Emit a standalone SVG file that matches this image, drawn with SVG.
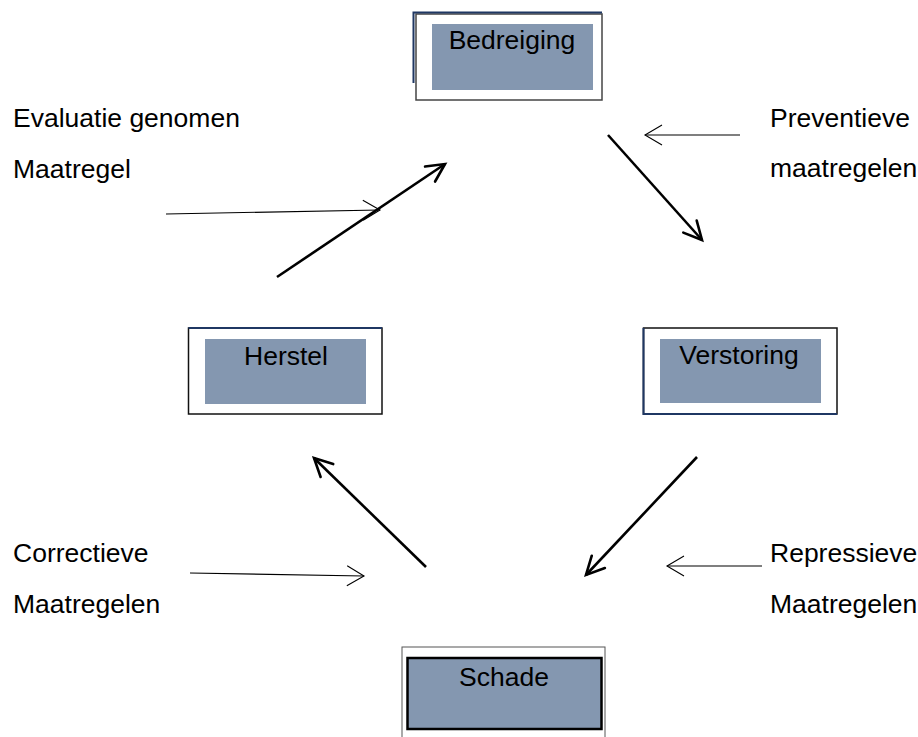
<svg xmlns="http://www.w3.org/2000/svg" width="918" height="737" viewBox="0 0 918 737">
<defs>
<style>
text{font-family:"Liberation Sans",Arial,sans-serif;font-size:26.5px;fill:#000}
.lbl{text-anchor:middle}
.fill{fill:#8497B0;stroke:none}
.thick{stroke:#000;stroke-width:2.6;fill:none;marker-end:url(#hk)}
.thin{stroke:#000;stroke-width:1.1;fill:none;marker-end:url(#hn)}
</style>
<marker id="hk" markerUnits="userSpaceOnUse" orient="auto" markerWidth="30" markerHeight="30" viewBox="-25 -15 30 30" refX="0" refY="0" overflow="visible">
<path d="M-18,-9 L0,0 L-18,9" fill="none" stroke="#000" stroke-width="2.6" stroke-linecap="round" stroke-linejoin="miter"/>
</marker>
<marker id="hn" markerUnits="userSpaceOnUse" orient="auto" markerWidth="30" markerHeight="30" viewBox="-25 -15 30 30" refX="0" refY="0" overflow="visible">
<path d="M-17,-10 L0,0 L-17,10" fill="none" stroke="#000" stroke-width="1.1"/>
</marker>
</defs>
<rect width="918" height="737" fill="#fff"/>

<g id="bedreiging">
<rect x="416" y="14" width="186" height="86" fill="#fff" stroke="#444" stroke-width="1.5"/>
<polyline points="413.5,83 413.5,12.5 602,12.5" fill="none" stroke="#1F3763" stroke-width="2"/>
<rect class="fill" x="432" y="24" width="161" height="66"/>
<text class="lbl" x="512" y="49">Bedreiging</text>
</g>

<g id="herstel">
<rect x="188.5" y="328" width="193.5" height="86" fill="#fff" stroke="#111" stroke-width="1.5"/>
<line x1="188.5" y1="328" x2="382" y2="328" stroke="#1F3763" stroke-width="2"/>
<rect class="fill" x="205" y="339" width="161" height="65"/>
<text class="lbl" x="286" y="365">Herstel</text>
</g>

<g id="verstoring">
<rect x="643.5" y="328" width="193.5" height="86" fill="#fff" stroke="#111" stroke-width="1.5"/>
<polyline points="643.5,328 643.5,414 837,414" fill="none" stroke="#1F3763" stroke-width="2"/>
<rect class="fill" x="660" y="339" width="161" height="64"/>
<text class="lbl" x="739" y="364">Verstoring</text>
</g>

<g id="schade">
<rect x="402" y="647" width="203" height="100" fill="#fff" stroke="#555" stroke-width="1"/>
<rect x="407.5" y="658" width="194" height="71" fill="#8497B0" stroke="#000" stroke-width="2.5"/>
<text class="lbl" x="504" y="686">Schade</text>
</g>

<g id="labels">
<text x="13" y="127">Evaluatie genomen</text>
<text x="13" y="178">Maatregel</text>
<text x="770" y="127">Preventieve</text>
<text x="770" y="177">maatregelen</text>
<text x="13" y="562">Correctieve</text>
<text x="13" y="613">Maatregelen</text>
<text x="770" y="562">Repressieve</text>
<text x="770" y="613">Maatregelen</text>
</g>

<g id="connectors">
<line class="thin" x1="166" y1="214" x2="380" y2="210"/>
<line class="thick" x1="277" y1="277" x2="445" y2="164"/>
<line class="thick" x1="608" y1="135" x2="702" y2="240"/>
<line class="thin" x1="740" y1="135" x2="645" y2="135"/>
<line class="thick" x1="697" y1="457" x2="586" y2="575"/>
<line class="thin" x1="762" y1="566" x2="667" y2="566"/>
<line class="thick" x1="426" y1="567" x2="314" y2="458"/>
<line class="thin" x1="190" y1="573" x2="364" y2="576"/>
</g>
</svg>
